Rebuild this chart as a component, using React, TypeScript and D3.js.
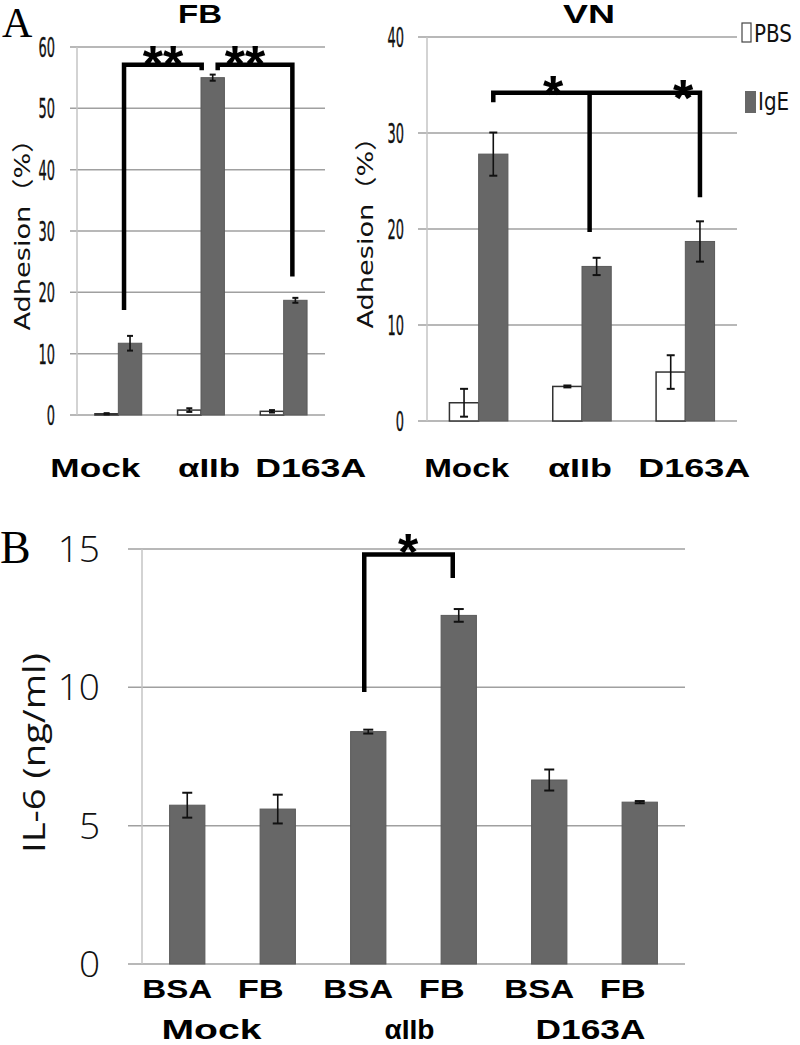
import React from "react";
import * as d3 from "d3";

// ---------- Data ----------
const groupsA = ["Mock", "αIIb", "D163A"];
const seriesA = ["PBS", "IgE"];

const fbPBS = [0.2, 0.8, 0.6];
const fbPBSErr = [0.1, 0.3, 0.2];
const fbIgE = [11.7, 55.0, 18.7];
const fbIgEErr = [1.2, 0.5, 0.4];

const vnPBS = [1.9, 3.6, 5.1];
const vnPBSErr = [1.45, 0.1, 1.75];
const vnIgE = [27.8, 16.1, 18.7];
const vnIgEErr = [2.25, 0.9, 2.1];

const fbTicks = [0, 10, 20, 30, 40, 50, 60];
const vnTicks = [0, 10, 20, 30, 40];

const groupsB = ["Mock", "αIIb", "D163A"];
const treatB = ["BSA", "FB", "BSA", "FB", "BSA", "FB"];
const il6 = [5.74, 5.6, 8.4, 12.6, 6.65, 5.85];
const il6Err = [0.45, 0.52, 0.07, 0.23, 0.38, 0.04];
const bTicks = [0, 5, 10, 15];

const BAR = "#676767";
const GRID = "#a0a0a0";
const AXIS = "#c4c4c4";
const BOLD = "'Liberation Sans', Arial, sans-serif";
const COND = "'DejaVu Sans', sans-serif";
const LIGHT = "'Open Sans', 'Noto Sans', sans-serif";

function ErrBar({ x, y1, y2, cap }: { x: number; y1: number; y2: number; cap: number }) {
  return (
    <g stroke="#111" strokeWidth={1.6}>
      <line x1={x} x2={x} y1={y1} y2={y2} />
      <line x1={x - cap} x2={x + cap} y1={y1} y2={y1} strokeWidth={2} />
      <line x1={x - cap} x2={x + cap} y1={y2} y2={y2} strokeWidth={2} />
    </g>
  );
}

function Star({ x, yc, n }: { x: number; yc: number; n: number }) {
  const fs = 52;
  return (
    <text x={x} y={yc + fs * 0.575} textAnchor="middle" fontFamily={BOLD} fontWeight="bold" fontSize={fs} fill="#000">
      {"*".repeat(n)}
    </text>
  );
}

function PanelA({
  title, titleX, titleW, pbs, pbsErr, ige, igeErr, ticks, yMax, xRange, yRange, gridLeft,
  tickRight, labelOffsets, labelWidths, yLabelX, cap,
}: any) {
  const x = d3.scaleBand().domain(groupsA).range(xRange);
  const y = d3.scaleLinear().domain([0, yMax]).range(yRange);
  const bw = x.bandwidth() * 0.283;
  const yLabelCenter = (y(0) + y(yMax)) / 2 - 3;
  return (
    <g>
      <text x={titleX} y={23} textAnchor="middle" fontFamily={BOLD} fontWeight="bold" fontSize={26}
        textLength={titleW} lengthAdjust="spacingAndGlyphs">{title}</text>
      {ticks.map((t: number) => (
        <g key={t}>
          <line x1={gridLeft} x2={xRange[1]} y1={y(t)} y2={y(t)} stroke={GRID} strokeWidth={1.5} />
          <g transform={`translate(${tickRight},${y(t) + 10}) scale(0.48,1)`}>
            <text x={0} y={0} textAnchor="end" fontFamily={COND} fontSize={27} fill="#111" stroke="#111" strokeWidth={0.4}>{t}</text>
          </g>
        </g>
      ))}
      <line x1={xRange[0]} x2={xRange[0]} y1={y(yMax)} y2={y(0)} stroke={AXIS} strokeWidth={1.5} />
      <text transform={`translate(${yLabelX},${yLabelCenter}) rotate(-90)`} textAnchor="middle"
        dominantBaseline="central" fontFamily="'DejaVu Sans', 'Noto Sans CJK JP', sans-serif" fontSize={22}
        fill="#111" textLength={205} lengthAdjust="spacingAndGlyphs">Adhesion（%）</text>
      {groupsA.map((g, i) => {
        const c = (x(g) as number) + x.bandwidth() / 2;
        return (
          <g key={g}>
            <rect x={c - bw} y={y(pbs[i])} width={bw} height={y(0) - y(pbs[i])} fill="#fff" stroke="#333" strokeWidth={1.5} />
            <rect x={c} y={y(ige[i])} width={bw} height={y(0) - y(ige[i])} fill={BAR} stroke="#5a5a5a" strokeWidth={1} />
            <ErrBar x={c - bw / 2} y1={y(pbs[i] + pbsErr[i])} y2={y(pbs[i] - pbsErr[i])} cap={cap} />
            <ErrBar x={c + bw / 2} y1={y(ige[i] + igeErr[i])} y2={y(ige[i] - igeErr[i])} cap={cap} />
            <text x={c + labelOffsets[i]} y={477} textAnchor="middle" fontFamily={BOLD} fontWeight="bold" fontSize={25}
              textLength={labelWidths[i]} lengthAdjust="spacingAndGlyphs">{g}</text>
          </g>
        );
      })}
    </g>
  );
}

export default function App() {
  const xFB = d3.scaleBand().domain(groupsA).range([77, 325]);
  const yFB = d3.scaleLinear().domain([0, 60]).range([415, 47]);
  const bwFB = xFB.bandwidth() * 0.283;
  const igeFB = (g: string) => (xFB(g) as number) + xFB.bandwidth() / 2 + bwFB / 2;

  const xVN = d3.scaleBand().domain(groupsA).range([427, 737]);
  const yVN = d3.scaleLinear().domain([0, 40]).range([421, 37]);
  const bwVN = xVN.bandwidth() * 0.283;
  const igeVN = (g: string) => (xVN(g) as number) + xVN.bandwidth() / 2 + bwVN / 2;

  const idxB = treatB.map((_, i) => String(i));
  const xB = d3.scaleBand().domain(idxB).range([142, 685]);
  const yB = d3.scaleLinear().domain([0, 15]).range([964, 549]);
  const bwB = xB.bandwidth() * 0.39;
  const cB = (i: number) => (xB(String(i)) as number) + xB.bandwidth() / 2;

  const bracket = (pts: [number, number][]) => d3.line()(pts) as string;
  const bStyle = { fill: "none", stroke: "#000", strokeWidth: 4.5, strokeLinejoin: "miter" as const };

  return (
    <svg width={800} height={1045} style={{ position: "absolute", left: 0, top: 0, background: "#fff" }}>
      <rect width={800} height={1045} fill="#fff" />
      <text x={2} y={37} fontFamily="'Liberation Serif', 'Times New Roman', serif" fontSize={42}>A</text>
      <text x={0} y={563} fontFamily="'Liberation Serif', 'Times New Roman', serif" fontSize={46}>B</text>

      <PanelA title="FB" titleX={200} titleW={44} pbs={fbPBS} pbsErr={fbPBSErr} ige={fbIgE} igeErr={fbIgEErr}
        ticks={fbTicks} yMax={60} xRange={[77, 325]} yRange={[415, 47]} gridLeft={70} tickRight={55}
        labelOffsets={[-23, 8, 27]} labelWidths={[90, 62, 111]} yLabelX={22} cap={3} />
      <PanelA title="VN" titleX={589} titleW={52} pbs={vnPBS} pbsErr={vnPBSErr} ige={vnIgE} igeErr={vnIgEErr}
        ticks={vnTicks} yMax={40} xRange={[427, 737]} yRange={[421, 37]} gridLeft={418} tickRight={404}
        labelOffsets={[-12, -2, 9]} labelWidths={[85, 64, 112]} yLabelX={365} cap={4} />

      {/* FB brackets */}
      <path d={bracket([[igeFB("Mock") - 6, yFB(17.1)], [igeFB("Mock") - 6, yFB(57.1)], [igeFB("αIIb") - 11, yFB(57.1)], [igeFB("αIIb") - 11, yFB(56.2)]])} {...bStyle} />
      <path d={bracket([[igeFB("αIIb") + 5, yFB(56.2)], [igeFB("αIIb") + 5, yFB(57.1)], [igeFB("D163A") - 3, yFB(57.1)], [igeFB("D163A") - 3, yFB(22.6)]])} {...bStyle} />
      <Star x={163} yc={52} n={2} />
      <Star x={245} yc={52} n={2} />

      {/* VN brackets */}
      <path d={bracket([[igeVN("Mock"), yVN(33.2)], [igeVN("Mock"), yVN(34.2)], [igeVN("D163A"), yVN(34.2)], [igeVN("D163A"), yVN(23.3)]])} {...bStyle} />
      <path d={bracket([[igeVN("αIIb") - 7, yVN(34.2)], [igeVN("αIIb") - 7, yVN(19.7)]])} {...bStyle} />
      <Star x={553} yc={82} n={1} />
      <Star x={683} yc={86} n={1} />

      {/* Legend */}
      <rect x={742} y={23} width={9} height={19} fill="#fff" stroke="#444" strokeWidth={1.2} />
      <g transform="translate(754,42) scale(0.95,1.2)">
        <text x={0} y={0} fontFamily={COND} fontSize={21} fill="#111">{seriesA[0]}</text>
      </g>
      <rect x={745} y={91} width={11} height={22} fill={BAR} />
      <g transform="translate(758,110) scale(0.95,1.2)">
        <text x={0} y={0} fontFamily={COND} fontSize={21} fill="#111">{seriesA[1]}</text>
      </g>

      {/* Panel B */}
      {bTicks.map((t) => (
        <g key={t}>
          <line x1={128} x2={685} y1={yB(t)} y2={yB(t)} stroke={GRID} strokeWidth={1.5} />
          <text x={100} y={yB(t) + 13} textAnchor="end" fontFamily={LIGHT} fontWeight={300} fontSize={37} fill="#111">{t}</text>
        </g>
      ))}
      <line x1={142} x2={142} y1={yB(15)} y2={yB(0)} stroke={AXIS} strokeWidth={1.5} />
      <text transform={`translate(33,753) rotate(-90)`} textAnchor="middle" dominantBaseline="central"
        fontFamily={LIGHT} fontSize={31} fill="#111" textLength={200} lengthAdjust="spacingAndGlyphs">IL-6 (ng/ml)</text>
      {il6.map((v, i) => (
        <g key={i}>
          <rect x={cB(i) - bwB / 2} y={yB(v)} width={bwB} height={yB(0) - yB(v)} fill={BAR} stroke="#5a5a5a" strokeWidth={1} />
          <ErrBar x={cB(i)} y1={yB(v + il6Err[i])} y2={yB(v - il6Err[i])} cap={5} />
          <text x={cB(i) + (treatB[i] === "BSA" ? -10 : -17)} y={998} textAnchor="middle" fontFamily={BOLD} fontWeight="bold"
            fontSize={25} textLength={treatB[i] === "BSA" ? 70 : 46} lengthAdjust="spacingAndGlyphs">{treatB[i]}</text>
        </g>
      ))}
      {groupsB.map((g, gi) => {
        const c = (cB(gi * 2) + cB(gi * 2 + 1)) / 2;
        const off = [-21, -4, -4][gi];
        const w = [100, 50, 110][gi];
        return (
          <text key={g} x={c + off} y={1039} textAnchor="middle" fontFamily={BOLD} fontWeight="bold" fontSize={27}
            textLength={w} lengthAdjust="spacingAndGlyphs">{g}</text>
        );
      })}
      <path d={bracket([[cB(2) - 4, yB(9.83)], [cB(2) - 4, yB(14.8)], [cB(3) - 6, yB(14.8)], [cB(3) - 6, yB(13.95)]])} {...bStyle} />
      <Star x={408} yc={540} n={1} />
    </svg>
  );
}
